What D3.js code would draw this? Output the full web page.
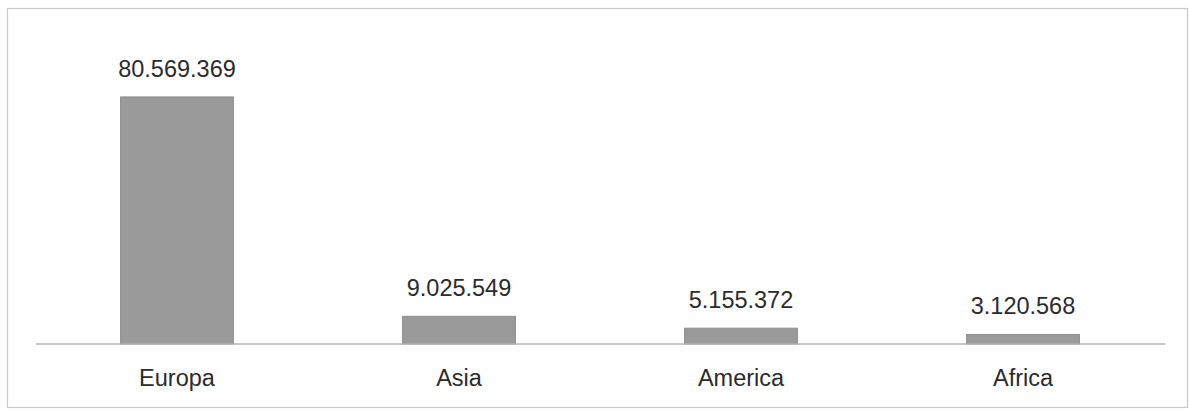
<!DOCTYPE html>
<html>
<head>
<meta charset="utf-8">
<script src="https://cdn.jsdelivr.net/npm/d3@7"></script>
<style>
  html, body { margin: 0; padding: 0; background: #fff; }
  svg { display: block; }
</style>
</head>
<body>
<svg id="chart" width="1190" height="410"></svg>
<script>
// Visitors by continent
const categories = ["Europa", "Asia", "America", "Africa"];
const values = [80569369, 9025549, 5155372, 3120568];

const svg = d3.select("#chart");

// chart frame
svg.append("rect")
  .attr("x", 7.5).attr("y", 8.5)
  .attr("width", 1180).attr("height", 399)
  .attr("fill", "#fff")
  .attr("stroke", "#c8c8c8")
  .attr("stroke-width", 1.2);

const x = d3.scaleBand()
  .domain(categories)
  .range([36, 1164])
  .paddingInner(0.6)
  .paddingOuter(0.3);

const y = d3.scaleLinear()
  .domain([0, 90000000])
  .range([344, 68]);

const fmt = v => d3.format(",")(v).replace(/,/g, ".");

// bars
svg.append("g").selectAll("rect")
  .data(categories)
  .join("rect")
  .attr("x", d => x(d))
  .attr("y", (d, i) => y(values[i]))
  .attr("width", x.bandwidth())
  .attr("height", (d, i) => y(0) - y(values[i]))
  .attr("fill", "#9a9a9a")
  .attr("stroke", "#8e8e8e")
  .attr("stroke-width", 1);

// baseline axis
const axis = d3.axisBottom(x).tickSize(0).tickPadding(0);
const gx = svg.append("g")
  .attr("transform", `translate(0,${y(0)})`)
  .call(axis);
gx.select(".domain")
  .attr("stroke", "#b4b4b4")
  .attr("stroke-width", 1.5)
  .attr("d", "M36,0H1165");
gx.selectAll(".tick text")
  .attr("y", 42)
  .attr("dy", 0)
  .attr("font-family", "'Liberation Sans', Arial, sans-serif")
  .attr("font-size", 23.5)
  .attr("fill", "#2b2b2b");

// value labels
svg.append("g").selectAll("text")
  .data(categories)
  .join("text")
  .attr("x", d => x(d) + x.bandwidth() / 2)
  .attr("y", (d, i) => y(values[i]) - 20)
  .attr("text-anchor", "middle")
  .attr("font-family", "'Liberation Sans', Arial, sans-serif")
  .attr("font-size", 23.5)
  .attr("fill", "#2b2b2b")
  .text((d, i) => fmt(values[i]));
</script>
</body>
</html>
